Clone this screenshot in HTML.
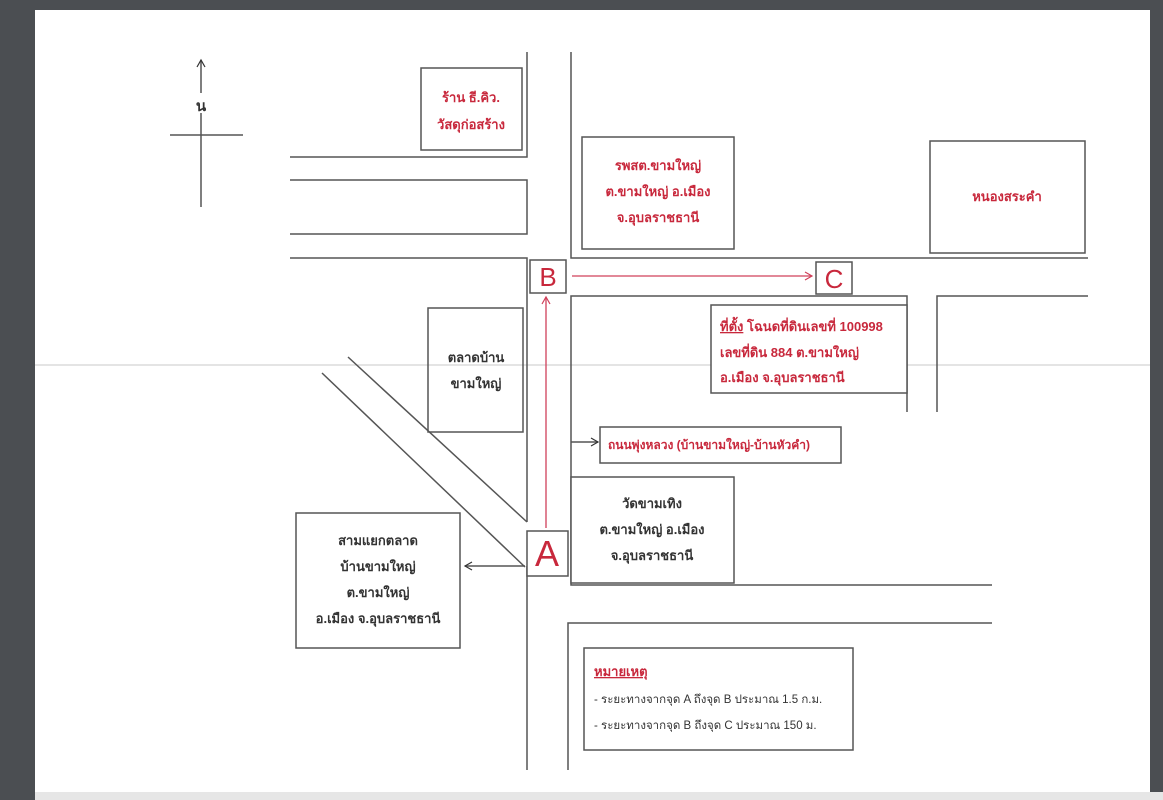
<!DOCTYPE html>
<html><head><meta charset="utf-8"><style>
html,body{margin:0;padding:0;width:1163px;height:800px;overflow:hidden;background:#4b4e52}
svg{display:block}
text{font-family:"Liberation Sans","Noto Sans CJK SC",sans-serif}
.r{fill:#c8283c}
.k{fill:#333}
.b{font-weight:bold}
</style></head><body>
<svg width="1163" height="800" viewBox="0 0 1163 800" xmlns="http://www.w3.org/2000/svg">
<defs>
<marker id="ak" markerWidth="10" markerHeight="10" refX="8" refY="5" orient="auto" markerUnits="userSpaceOnUse"><path d="M1,1 L8,5 L1,9" fill="none" stroke="#333" stroke-width="1.2"/></marker>
<marker id="ar" markerWidth="10" markerHeight="10" refX="8" refY="5" orient="auto" markerUnits="userSpaceOnUse"><path d="M1,1 L8,5 L1,9" fill="none" stroke="#d0405a" stroke-width="1.2"/></marker>
</defs>
<rect x="35" y="10" width="1115" height="782" fill="#fff"/>
<rect x="35" y="792" width="1128" height="8" fill="#e6e6e6"/>
<line x1="35" y1="365" x2="1150" y2="365" stroke="#c8c8c8" stroke-width="1"/>
<g stroke="#555" stroke-width="1.5" fill="none">
<line x1="201" y1="207" x2="201" y2="60" marker-end="url(#ak)"/>
<line x1="170" y1="135" x2="243" y2="135"/>
<polyline points="527,52 527,157 290,157"/>
<polyline points="290,180 527,180 527,234 290,234"/>
<polyline points="290,258 527,258 527,522"/>
<line x1="527" y1="566" x2="527" y2="770"/>
<polyline points="571,52 571,258 1088,258"/>
<polyline points="907,412 907,296 571,296 571,585 992,585"/>
<polyline points="937,412 937,296 1088,296"/>
<polyline points="992,623 568,623 568,770"/>
<line x1="348" y1="357" x2="527" y2="522"/>
<line x1="322" y1="373" x2="525" y2="567"/>
<rect x="421" y="68" width="101" height="82"/>
<rect x="582" y="137" width="152" height="112"/>
<rect x="930" y="141" width="155" height="112"/>
<rect x="530" y="260" width="36" height="33"/>
<rect x="816" y="262" width="36" height="32"/>
<rect x="428" y="308" width="95" height="124"/>
<rect x="711" y="305" width="196" height="88" fill="#fff"/>
<rect x="600" y="427" width="241" height="36"/>
<rect x="571" y="477" width="163" height="106" fill="#fff"/>
<rect x="527" y="531" width="41" height="45" fill="#fff"/>
<rect x="296" y="513" width="164" height="135"/>
<rect x="584" y="648" width="269" height="102"/>
<line x1="571" y1="442" x2="598" y2="442" marker-end="url(#ak)"/>
<line x1="525" y1="566" x2="465" y2="566" marker-end="url(#ak)"/>
</g>
<g stroke="#d0405a" stroke-width="1.3" fill="none">
<line x1="546" y1="528" x2="546" y2="297" marker-end="url(#ar)"/>
<line x1="572" y1="276" x2="812" y2="276" marker-end="url(#ar)"/>
</g>
<rect x="194" y="93" width="14" height="20" fill="#fff"/>
<text x="201" y="111" font-size="15" text-anchor="middle" class="k b">น</text>
<g font-size="13" text-anchor="middle" class="r b">
<text x="471" y="102">ร้าน ธี.คิว.</text>
<text x="471" y="129">วัสดุก่อสร้าง</text>
<text x="658" y="170">รพสต.ขามใหญ่</text>
<text x="658" y="196">ต.ขามใหญ่ อ.เมือง</text>
<text x="658" y="222">จ.อุบลราชธานี</text>
<text x="1007" y="201">หนองสระคำ</text>
</g>
<text x="548" y="286" font-size="26" text-anchor="middle" class="r">B</text>
<text x="834" y="288" font-size="26" text-anchor="middle" class="r">C</text>
<text x="547" y="566" font-size="36" text-anchor="middle" class="r">A</text>
<g font-size="13" class="r b">
<text x="720" y="331"><tspan text-decoration="underline">ที่ตั้ง</tspan> โฉนดที่ดินเลขที่ 100998</text>
<text x="720" y="357">เลขที่ดิน 884 ต.ขามใหญ่</text>
<text x="720" y="382">อ.เมือง จ.อุบลราชธานี</text>
<text x="608" y="449" font-size="12">ถนนพุ่งหลวง (บ้านขามใหญ่-บ้านหัวคำ)</text>
<text x="594" y="676" text-decoration="underline">หมายเหตุ</text>
</g>
<g font-size="13" text-anchor="middle" class="k b">
<text x="476" y="362">ตลาดบ้าน</text>
<text x="476" y="388">ขามใหญ่</text>
<text x="652" y="508">วัดขามเทิง</text>
<text x="652" y="534">ต.ขามใหญ่ อ.เมือง</text>
<text x="652" y="560">จ.อุบลราชธานี</text>
<text x="378" y="545">สามแยกตลาด</text>
<text x="378" y="571">บ้านขามใหญ่</text>
<text x="378" y="597">ต.ขามใหญ่</text>
<text x="378" y="623">อ.เมือง จ.อุบลราชธานี</text>
</g>
<g font-size="11.5" class="k">
<text x="594" y="703">- ระยะทางจากจุด A ถึงจุด B ประมาณ 1.5 ก.ม.</text>
<text x="594" y="729">- ระยะทางจากจุด B ถึงจุด C ประมาณ 150 ม.</text>
</g>
</svg>
</body></html>
